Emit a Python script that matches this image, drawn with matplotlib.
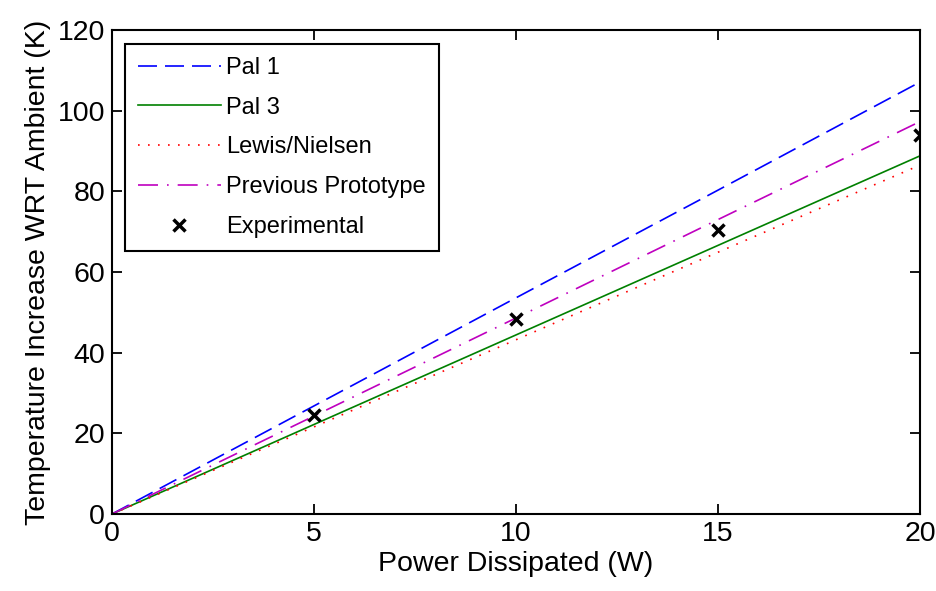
"""
Temperature rise versus dissipated power: model predictions and experiment.
"""

import matplotlib

matplotlib.use("Agg")
import matplotlib.pyplot as plt

power = [0, 5, 10, 15, 20]
pal1 = [0, 26.8, 53.6, 80.3, 107.1]
pal3 = [0, 22.2, 44.4, 66.6, 88.8]
lewis_nielsen = [0, 21.6, 43.2, 64.9, 86.5]
previous_prototype = [0, 24.3, 48.6, 73.0, 97.3]

exp_power = [5, 10, 15, 20]
exp_temp = [24.5, 48.3, 70.5, 94.0]

x_ticks = [0, 5, 10, 15, 20]
y_ticks = [0, 20, 40, 60, 80, 100, 120]


def main():
    plt.rcParams["font.family"] = ["Liberation Sans", "DejaVu Sans"]
    plt.rcParams["font.size"] = 20.5

    fig = plt.figure(figsize=(9.36, 5.91), dpi=100)
    ax = fig.add_axes([0.1197, 0.1303, 0.8633, 0.8190])

    ax.plot(power, pal1, color="#0000ff", lw=1.2, dashes=(11.4, 4.8),
            label="Pal 1")
    ax.plot(power, pal3, color="#008000", lw=1.2, label="Pal 3")
    ax.plot(power, lewis_nielsen, color="#ff0000", lw=1.2, dashes=(1, 5),
            label="Lewis/Nielsen")
    ax.plot(power, previous_prototype, color="#bf00bf", lw=1.2,
            dashes=(12, 5.4, 1, 5.4), label="Previous Prototype")
    ax.plot(exp_power, exp_temp, ls="none", marker="x", ms=8, mew=2.5,
            color="black", label="Experimental")

    ax.set_xlim(0, 20)
    ax.set_ylim(0, 120)
    ax.set_xticks(x_ticks)
    ax.set_yticks(y_ticks)
    ax.set_xlabel("Power Dissipated (W)", labelpad=3)
    ax.set_ylabel("Temperature Increase WRT Ambient (K)", labelpad=5)

    ax.tick_params(direction="in", length=7, width=1.3, top=True, right=True,
                   pad=5)
    for spine in ax.spines.values():
        spine.set_linewidth(1.5)

    leg = ax.legend(loc="upper left", bbox_to_anchor=(0.016, 0.971),
                    fontsize=17, fancybox=False, framealpha=1,
                    edgecolor="black", handlelength=3.5, handletextpad=0.25,
                    borderpad=0.55, labelspacing=0.75, borderaxespad=0)
    leg.get_frame().set_linewidth(1.5)

    fig.savefig("out.png", dpi=100)


if __name__ == "__main__":
    main()
